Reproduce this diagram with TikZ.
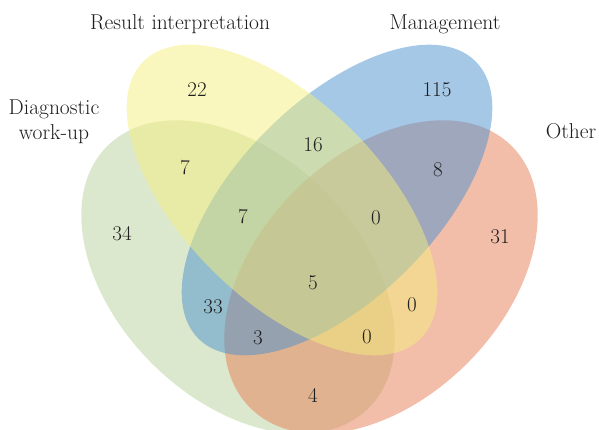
\documentclass[tikz,border=0pt]{standalone}
\usepackage{xcolor}
\definecolor{cgreen}{RGB}{185,209,155}
\definecolor{cyellow}{RGB}{245,239,125}
\definecolor{cblue}{RGB}{75,145,205}
\definecolor{cred}{RGB}{229,125,85}
\definecolor{ctext}{RGB}{30,30,30}
\begin{document}
\begin{tikzpicture}[x=1pt,y=-1pt,
  setfill/.style={fill=#1,fill opacity=0.5,draw=none},
  setlabel/.style={text=ctext,font=\fontsize{21.5}{25}\selectfont,inner sep=0pt,align=center},
  cnt/.style={text=ctext,font=\fontsize{21}{24}\selectfont,inner sep=0pt}]
\path[use as bounding box] (0,0) rectangle (599,429);
% ellipses (drawing order chosen for blending)
\fill[setfill=cgreen,shift={(238,277)},rotate=-45] (0,0) ellipse [x radius=185,y radius=122];
\fill[setfill=cred,shift={(381,277)},rotate=45] (0,0) ellipse [x radius=185,y radius=122];
\fill[setfill=cblue,shift={(337,200)},rotate=45] (0,0) ellipse [x radius=196,y radius=99];
\fill[setfill=cyellow,shift={(282,200)},rotate=-45] (0,0) ellipse [x radius=196,y radius=99];
% set labels
\node[setlabel] (lres) at (180,24) {Result interpretation};
\node[setlabel] (lman) at (445,24) {Management};
\node[setlabel] (ldia) at (54,122) {Diagnostic\\work-up};
\node[setlabel] (loth) at (571,131) {Other};
% counts
\node[cnt] (n22) at (197,90) {22};
\node[cnt] (n115) at (437,90) {115};
\node[cnt] (n7a) at (185,168) {7};
\node[cnt] (n16) at (313,145) {16};
\node[cnt] (n8) at (438,170) {8};
\node[cnt] (n34) at (122,234) {34};
\node[cnt] (n7b) at (243,217) {7};
\node[cnt] (n0a) at (376,218) {0};
\node[cnt] (n31) at (500,237) {31};
\node[cnt] (n5) at (313,283) {5};
\node[cnt] (n33) at (213,307) {33};
\node[cnt] (n0b) at (412,305) {0};
\node[cnt] (n3) at (258,338) {3};
\node[cnt] (n0c) at (367,337) {0};
\node[cnt] (n4) at (313,395) {4};
\end{tikzpicture}
\end{document}
